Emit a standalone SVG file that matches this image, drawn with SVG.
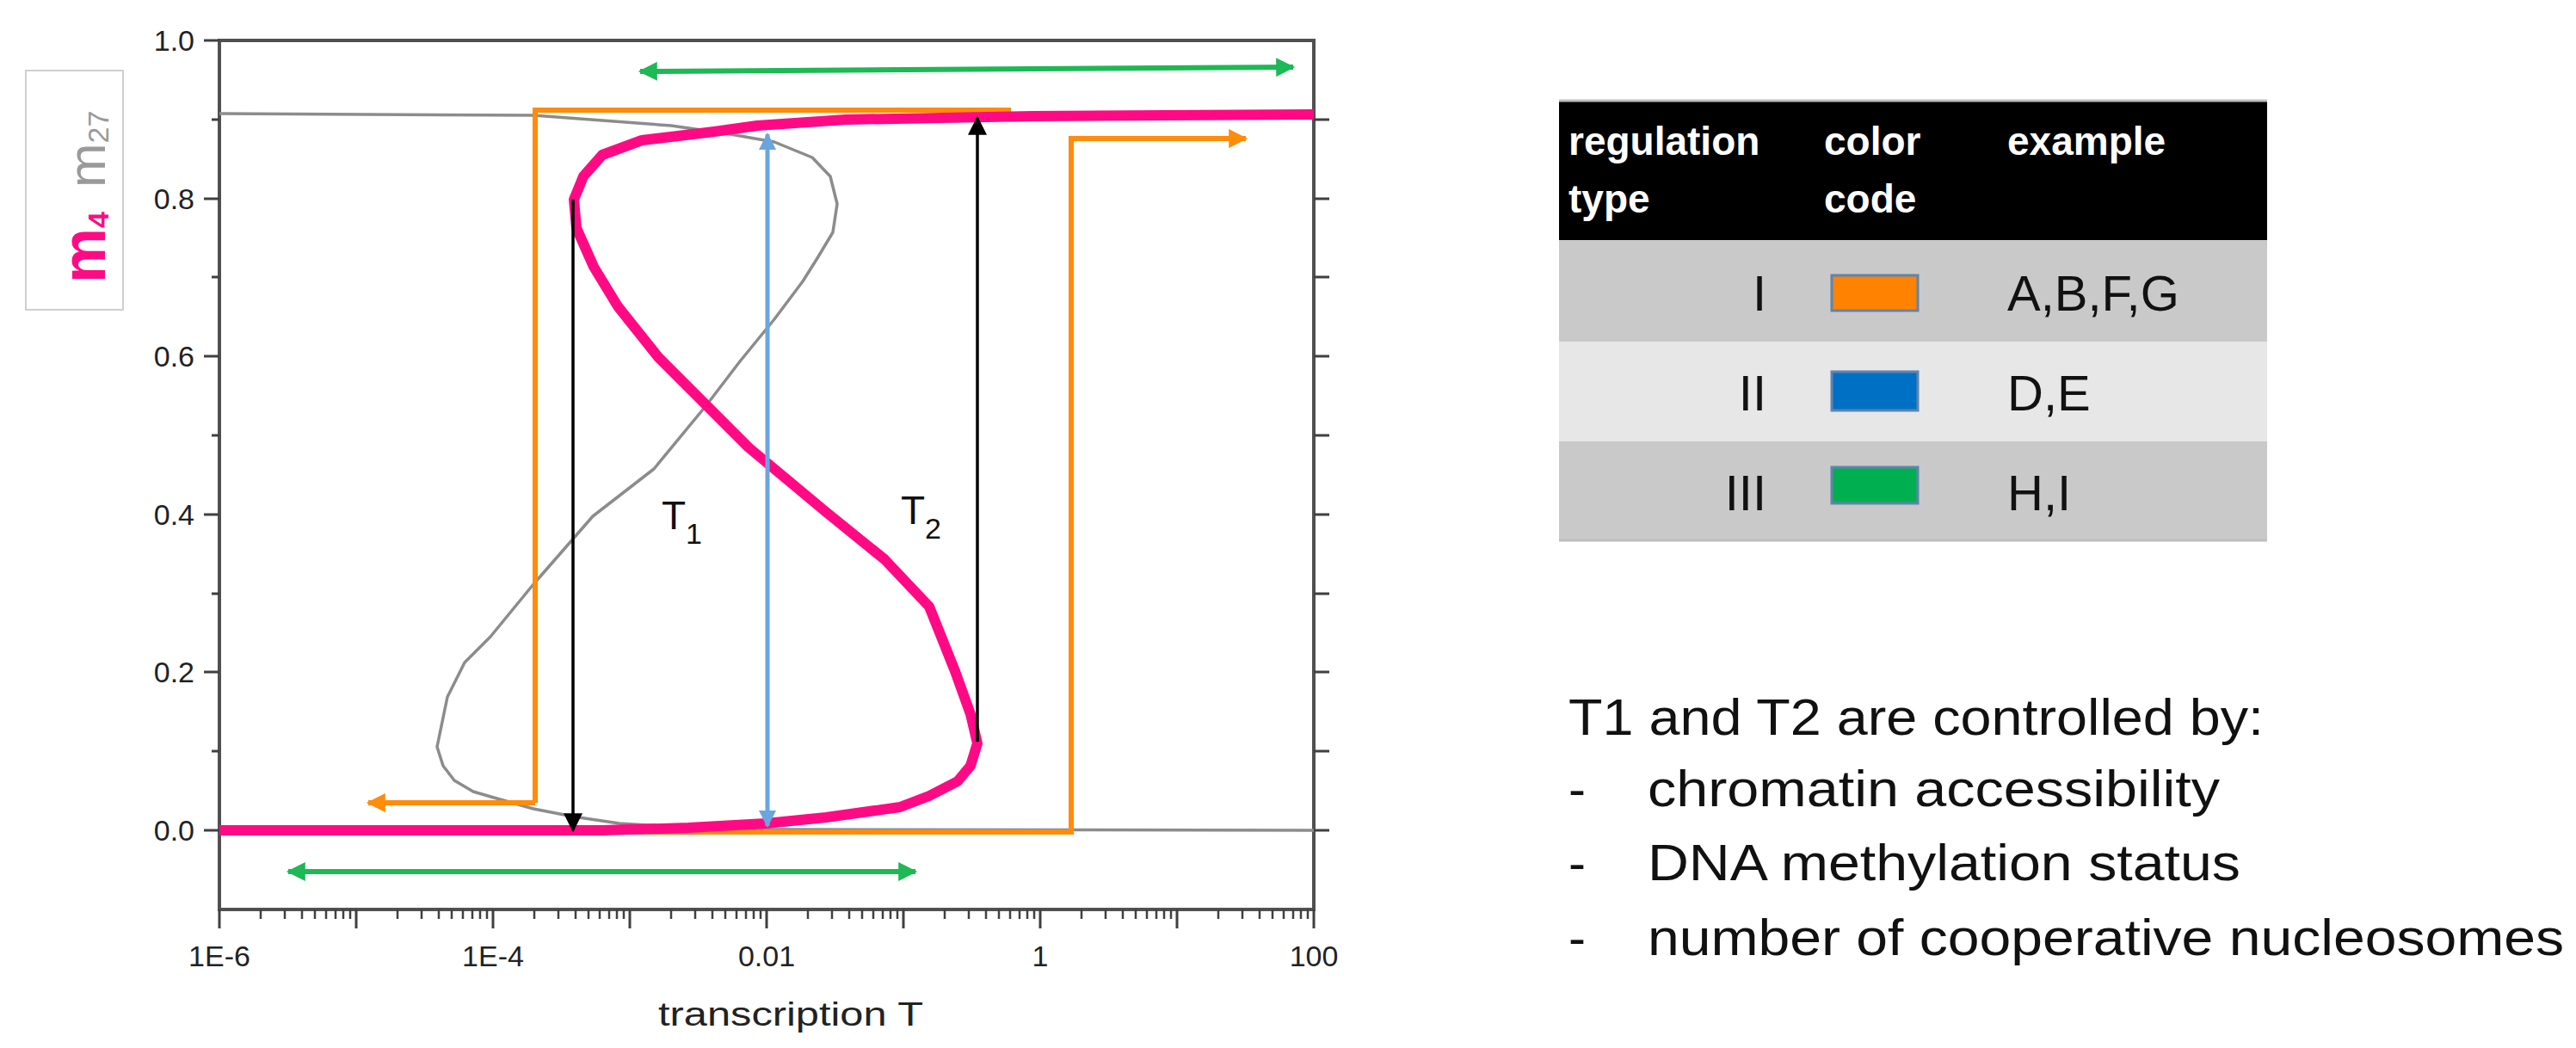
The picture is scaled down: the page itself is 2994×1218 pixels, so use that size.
<svg xmlns="http://www.w3.org/2000/svg" width="2994" height="1218" viewBox="0 0 2994 1218">
<style>
.ax{stroke:#505050;stroke-width:4;fill:none}
.tk{stroke:#404040;stroke-width:3}
.tl{font-family:"Liberation Sans",Arial,sans-serif;font-size:34px;fill:#222}
.mag{stroke:#ff0a84;stroke-width:12;fill:none;stroke-linejoin:round;stroke-linecap:butt}
.gry{stroke:#8c8c8c;stroke-width:3.5;fill:none;stroke-linejoin:round}
.org{stroke:#ff8c0a;stroke-width:6;fill:none}
.grn{stroke:#1db954;stroke-width:6;fill:none}
.blu{stroke:#6aa6de;stroke-width:5;fill:none}
.blk{stroke:#000;stroke-width:3.5;fill:none}
.lab{font-family:"Liberation Sans",Arial,sans-serif;fill:#111}
.hd{font-family:"Liberation Sans",Arial,sans-serif;font-size:46px;font-weight:bold;fill:#fff}
.cell{font-family:"Liberation Sans",Arial,sans-serif;font-size:58px;fill:#111}
.note{font-family:"Liberation Sans",Arial,sans-serif;font-size:60px;fill:#111}
</style>
<defs>
<marker id="aO" viewBox="0 0 10 10" refX="9" refY="5" markerUnits="userSpaceOnUse" markerWidth="26" markerHeight="22" orient="auto-start-reverse"><path d="M0,0 L10,5 L0,10 z" fill="#ff8c0a"/></marker>
<marker id="aG" viewBox="0 0 10 10" refX="9" refY="5" markerUnits="userSpaceOnUse" markerWidth="26" markerHeight="22" orient="auto-start-reverse"><path d="M0,0 L10,5 L0,10 z" fill="#1db954"/></marker>
<marker id="aB" viewBox="0 0 10 10" refX="9" refY="5" markerUnits="userSpaceOnUse" markerWidth="24" markerHeight="20" orient="auto-start-reverse"><path d="M0,0 L10,5 L0,10 z" fill="#6aa6de"/></marker>
<marker id="aK" viewBox="0 0 10 10" refX="9" refY="5" markerUnits="userSpaceOnUse" markerWidth="30" markerHeight="22" orient="auto-start-reverse"><path d="M0,0 L10,5 L0,10 z" fill="#000"/></marker>
</defs>
<rect width="2994" height="1218" fill="#fff"/>

<g id="plot-axes">
<rect class="ax" x="255" y="47" width="1272" height="1010"/>
<g class="tk">
<path d="M237 965H255M237 781H255M237 598H255M237 414H255M237 231H255M237 47H255"/>
<path d="M246 873H255M246 690H255M246 506H255M246 322H255M246 139H255"/>
<path d="M1527 965H1545M1527 873H1545M1527 781H1545M1527 690H1545M1527 598H1545M1527 506H1545M1527 414H1545M1527 322H1545M1527 231H1545M1527 139H1545"/>
<path d="M255 1057V1079M414 1057V1079M573 1057V1079M732 1057V1079M891 1057V1079M1050 1057V1079M1209 1057V1079M1368 1057V1079M1527 1057V1079"/>
<path stroke-width="2.5" d="M303 1057v11M331 1057v11M351 1057v11M366 1057v11M379 1057v11M390 1057v11M399 1057v11M407 1057v11M462 1057v11M490 1057v11M510 1057v11M525 1057v11M538 1057v11M549 1057v11M558 1057v11M566 1057v11M621 1057v11M649 1057v11M669 1057v11M684 1057v11M697 1057v11M708 1057v11M717 1057v11M725 1057v11M780 1057v11M808 1057v11M828 1057v11M843 1057v11M856 1057v11M867 1057v11M876 1057v11M884 1057v11M939 1057v11M967 1057v11M987 1057v11M1002 1057v11M1015 1057v11M1026 1057v11M1035 1057v11M1043 1057v11M1098 1057v11M1126 1057v11M1146 1057v11M1161 1057v11M1174 1057v11M1185 1057v11M1194 1057v11M1202 1057v11M1257 1057v11M1285 1057v11M1305 1057v11M1320 1057v11M1333 1057v11M1344 1057v11M1353 1057v11M1361 1057v11M1416 1057v11M1444 1057v11M1464 1057v11M1479 1057v11M1492 1057v11M1503 1057v11M1512 1057v11M1520 1057v11"/>
</g>
<g class="tl" text-anchor="end">
<text x="226" y="977">0.0</text><text x="226" y="793">0.2</text><text x="226" y="610">0.4</text><text x="226" y="426">0.6</text><text x="226" y="243">0.8</text><text x="226" y="59">1.0</text>
</g>
<g class="tl" text-anchor="middle">
<text x="255" y="1123">1E-6</text><text x="573" y="1123">1E-4</text><text x="891" y="1123">0.01</text><text x="1209" y="1123">1</text><text x="1527" y="1123">100</text>
<text x="919" y="1192" font-size="38" textLength="308" lengthAdjust="spacingAndGlyphs">transcription T</text>
</g>
</g>

<g id="y-label">
<rect x="30" y="82" width="113" height="278" fill="#fff" stroke="#cfcfcf" stroke-width="2"/>
<text transform="translate(122,329) rotate(-90)" font-family="Liberation Sans,Arial,sans-serif"><tspan font-weight="bold" fill="#ff0a84" font-size="72">m</tspan><tspan font-weight="bold" fill="#ff0a84" font-size="34" dy="4">4</tspan><tspan fill="#9a9a9a" font-size="62" dx="28" dy="-4">m</tspan><tspan fill="#9a9a9a" font-size="34" dy="4">27</tspan></text>
</g>

<g id="curves">
<polyline class="gry" points="255,132 620,134 700,140 780,146 849,156 900,165 944,183 965,205 973,237 968,270 950,300 933,327 900,371 860,420 821,471 760,545 689,600 620,679 570,740 540,770 520,810 508,868 515,890 528,907 550,920 574,927 620,940 666,949 720,957 800,962 900,964 1527,965"/>
<path class="org" d="M622 933H622V128H1175" />
<path class="org" d="M622 933H428" marker-end="url(#aO)"/>
<path class="org" d="M700 967H1245V161H1448" marker-end="url(#aO)"/>
<polyline class="mag" points="1527,133 1200,135 983,139 880,146 830,153 746,163 700,180 678,205 667,232 670,265 690,310 718,356 765,415 821,471 870,520 900,545 960,595 1028,650 1080,705 1110,780 1128,830 1136,864 1128,890 1113,908 1080,925 1046,938 960,950 890,957 800,962 700,965 255,965"/>
</g>

<g id="connectors">
<path class="blk" d="M666 232V965" marker-end="url(#aK)"/>
<path class="blk" d="M1136 862V137" marker-end="url(#aK)"/>
<path class="blu" d="M892 156V960" marker-start="url(#aB)" marker-end="url(#aB)"/>
<path class="grn" d="M744 83L1503 78" marker-start="url(#aG)" marker-end="url(#aG)"/>
<path class="grn" d="M335 1013H1064" marker-start="url(#aG)" marker-end="url(#aG)"/>
</g>

<g id="threshold-labels" class="lab">
<text x="769" y="615" font-size="46">T<tspan font-size="34" dy="17">1</tspan></text>
<text x="1047" y="609" font-size="46">T<tspan font-size="34" dy="17">2</tspan></text>
</g>

<g id="legend-table">
<rect x="1812" y="117" width="823" height="162" fill="#000"/>
<rect x="1812" y="279" width="823" height="118" fill="#c9c9c9"/>
<rect x="1812" y="397" width="823" height="116" fill="#e7e7e7"/>
<rect x="1812" y="513" width="823" height="115" fill="#c9c9c9"/>
<path d="M1812 117H2635M1812 628H2635" stroke="#bdbdbd" stroke-width="3"/>
<text class="hd" x="1823" y="180">regulation</text><text class="hd" x="1823" y="247">type</text>
<text class="hd" x="2120" y="180">color</text><text class="hd" x="2120" y="247">code</text>
<text class="hd" x="2333" y="180">example</text>
<g class="cell" text-anchor="end"><text x="2053" y="361">I</text><text x="2053" y="477">II</text><text x="2053" y="593">III</text></g>
<rect x="2129" y="320" width="100" height="41" fill="#ff8200" stroke="#5f84ad" stroke-width="3"/>
<rect x="2129" y="432" width="100" height="45" fill="#0070c4" stroke="#5f84ad" stroke-width="3"/>
<rect x="2129" y="543" width="100" height="42" fill="#00b050" stroke="#5f84ad" stroke-width="3"/>
<text class="cell" x="2333" y="361">A,B,F,G</text>
<text class="cell" x="2333" y="477">D,E</text>
<text class="cell" x="2333" y="593">H,I</text>
</g>

<g id="note">
<text class="note" x="1823" y="854" textLength="808" lengthAdjust="spacingAndGlyphs">T1 and T2 are controlled by:</text>
<text class="note" x="1823" y="937">-</text><text class="note" x="1915" y="937" textLength="665" lengthAdjust="spacingAndGlyphs">chromatin accessibility</text>
<text class="note" x="1823" y="1023">-</text><text class="note" x="1915" y="1023" textLength="689" lengthAdjust="spacingAndGlyphs">DNA methylation status</text>
<text class="note" x="1823" y="1110">-</text><text class="note" x="1915" y="1110" textLength="1065" lengthAdjust="spacingAndGlyphs">number of cooperative nucleosomes</text>
</g>
</svg>
